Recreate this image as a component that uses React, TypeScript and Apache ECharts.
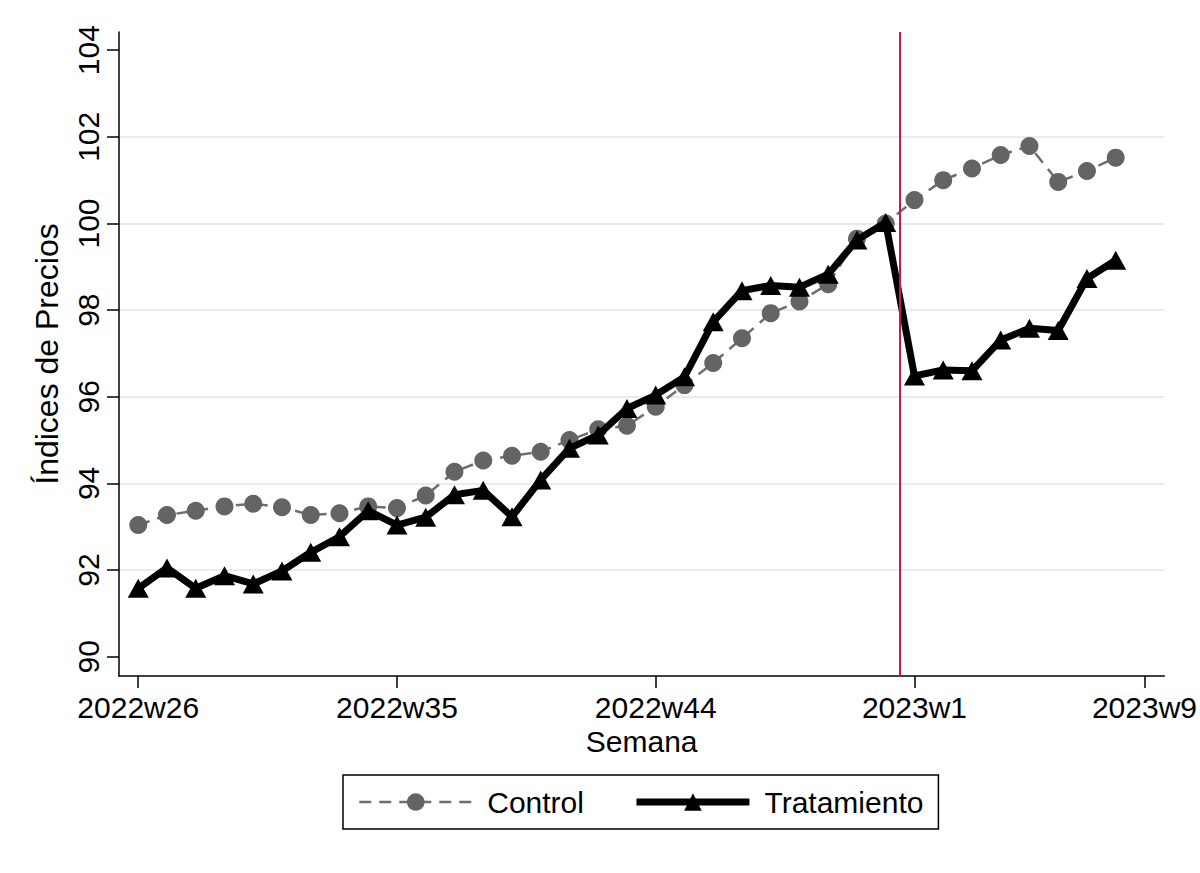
import React, { useEffect, useRef } from "react";
import * as echarts from "echarts";

// Week labels (x categories), one per data point
const weeks: string[] = [
  "2022w26", "2022w27", "2022w28", "2022w29", "2022w30", "2022w31", "2022w32",
  "2022w33", "2022w34", "2022w35", "2022w36", "2022w37", "2022w38", "2022w39",
  "2022w40", "2022w41", "2022w42", "2022w43", "2022w44", "2022w45", "2022w46",
  "2022w47", "2022w48", "2022w49", "2022w50", "2022w51", "2022w52",
  "2023w1", "2023w2", "2023w3", "2023w4", "2023w5", "2023w6", "2023w7", "2023w8",
];

const controlValues: number[] = [
  93.04, 93.27, 93.37, 93.47, 93.53, 93.45, 93.27, 93.31, 93.47, 93.43,
  93.72, 94.27, 94.53, 94.64, 94.73, 95.0, 95.25, 95.33, 95.77, 96.27,
  96.78, 97.35, 97.93, 98.2, 98.6, 99.65, 100.0,
  100.54, 101.0, 101.27, 101.58, 101.79, 100.96, 101.21, 101.52,
];

const treatmentValues: number[] = [
  91.58, 92.05, 91.58, 91.87, 91.68, 91.98, 92.41, 92.77, 93.37, 93.04,
  93.22, 93.74, 93.84, 93.23, 94.08, 94.81, 95.12, 95.73, 96.04, 96.46,
  97.73, 98.45, 98.57, 98.53, 98.83, 99.62, 100.02,
  96.48, 96.62, 96.6, 97.31, 97.58, 97.53, 98.73, 99.15,
];

// X tick labels and their week index positions
const xTickLabels: string[] = ["2022w26", "2022w35", "2022w44", "2023w1", "2023w9"];
const xTickIndex: number[] = [0, 9, 18, 27, 35];

// Y ticks and gridlines
const yTicks: number[] = [90, 92, 94, 96, 98, 100, 102, 104];
const yGridValues: number[] = [92, 94, 96, 98, 100, 102];

// Intervention line (between 2022w52 and 2023w1)
const interventionX = 26.5;

const FONT = "'Liberation Sans', Arial, Helvetica, sans-serif";

export default function App() {
  const ref = useRef<HTMLDivElement>(null);

  useEffect(() => {
    if (!ref.current) return;
    const chart = echarts.init(ref.current, undefined, { renderer: "svg" });

    const control = controlValues.map((v, i) => [i, v]);
    const treatment = treatmentValues.map((v, i) => [i, v]);

    const yMin = 89.555;
    const yMax = 104.42;

    chart.setOption({
      animation: false,
      backgroundColor: "#ffffff",
      textStyle: { fontFamily: FONT },
      grid: { left: 119, right: 29, top: 32, bottom: 197, containLabel: false },
      xAxis: {
        type: "value",
        min: -0.669,
        max: 35.69,
        name: "Semana",
        nameLocation: "middle",
        nameGap: 50,
        nameTextStyle: { fontSize: 30, color: "#000", fontFamily: FONT },
        axisLine: { show: true, onZero: false, lineStyle: { color: "#000", width: 1.5 } },
        axisTick: {
          show: true,
          length: 12,
          customValues: xTickIndex,
          lineStyle: { color: "#000", width: 1.5 },
        },
        axisLabel: {
          show: true,
          customValues: xTickIndex,
          margin: 16,
          fontSize: 30,
          color: "#000",
          fontFamily: FONT,
          formatter: (v: number) => {
            const k = xTickIndex.indexOf(Math.round(v));
            return k >= 0 ? xTickLabels[k] : "";
          },
        },
        splitLine: { show: false },
      },
      yAxis: [
        {
          type: "value",
          min: yMin,
          max: yMax,
          name: "Índices de Precios",
          nameLocation: "middle",
          nameGap: 56,
          nameTextStyle: { fontSize: 32, color: "#000", fontFamily: FONT },
          axisLine: { show: true, onZero: false, lineStyle: { color: "#000", width: 1.5 } },
          axisTick: {
            show: true,
            length: 12,
            customValues: yTicks,
            lineStyle: { color: "#000", width: 1.5 },
          },
          axisLabel: {
            show: true,
            customValues: yTicks,
            rotate: 90,
            margin: 16,
            fontSize: 30,
            color: "#000",
            fontFamily: FONT,
            formatter: (v: number) => String(Math.round(v)),
          },
          splitLine: { show: false },
        },
        {
          type: "value",
          min: yMin,
          max: yMax,
          position: "left",
          axisLine: { show: false },
          axisTick: { show: false, customValues: yGridValues },
          axisLabel: { show: false, customValues: yGridValues },
          splitLine: { show: true, lineStyle: { color: "#e6ecf0", width: 2 } },
        },
      ],
      legend: {
        left: 343,
        top: 775,
        orient: "horizontal",
        padding: [12, 15, 12, 15],
        itemGap: 49,
        itemWidth: 113,
        itemHeight: 22,
        borderColor: "#000",
        borderWidth: 1.5,
        borderRadius: 0,
        textStyle: { fontSize: 30, color: "#000", fontFamily: FONT, padding: [0, 0, 0, 10] },
        data: [
          { name: "Control", lineStyle: { width: 2.5 } },
          { name: "Tratamiento", lineStyle: { width: 7 } },
        ],
      },
      series: [
        {
          name: "Control",
          type: "line",
          data: control,
          symbol: "circle",
          symbolSize: 18,
          itemStyle: { color: "#646464" },
          lineStyle: { color: "#6e6e6e", width: 2.5, type: [12, 8] },
          z: 2,
          markLine: {
            silent: true,
            symbol: "none",
            label: { show: false },
            lineStyle: { color: "#c8194b", width: 2, type: "solid" },
            data: [{ xAxis: interventionX }],
          },
        },
        {
          name: "Tratamiento",
          type: "line",
          data: treatment,
          symbol: "triangle",
          symbolSize: [21, 19],
          itemStyle: { color: "#000" },
          lineStyle: { color: "#000", width: 7, type: "solid" },
          z: 3,
        },
      ],
    });

    return () => chart.dispose();
  }, []);

  return (
    <div
      ref={ref}
      style={{ position: "absolute", left: 0, top: 0, width: 1200, height: 873 }}
    />
  );
}
